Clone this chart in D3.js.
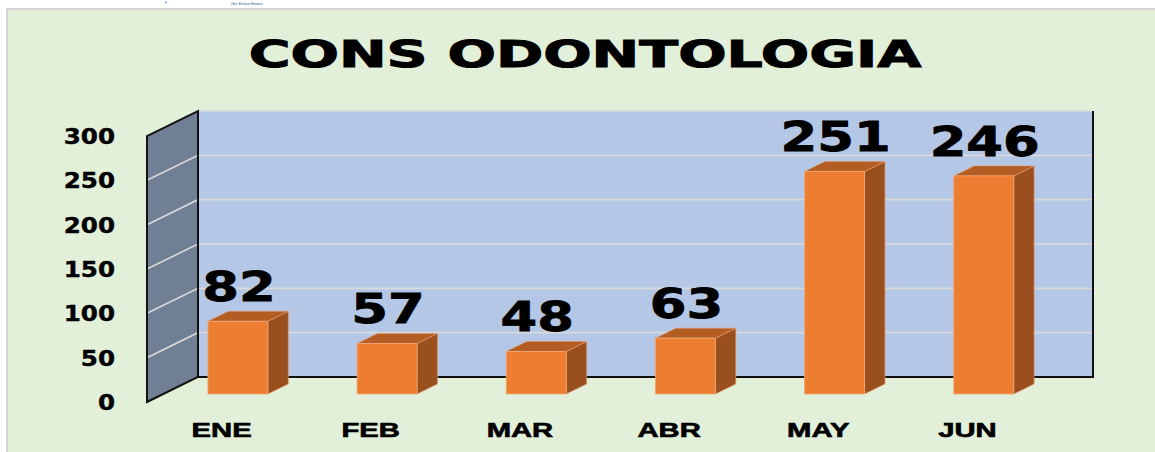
<!DOCTYPE html>
<html>
<head>
<meta charset="utf-8">
<script src="https://cdn.jsdelivr.net/npm/d3@7"></script>
<style>
  html, body { margin: 0; padding: 0; background: #ffffff; }
  svg { display: block; }
</style>
</head>
<body>
<div id="chart"></div>
<script>
// ---- data ----
const title = "CONS ODONTOLOGIA";
const categories = ["ENE", "FEB", "MAR", "ABR", "MAY", "JUN"];
const values = [82, 57, 48, 63, 251, 246];
const yTicks = [0, 50, 100, 150, 200, 250, 300];
const yMax = 300;

// ---- layout ----
const W = 1155, H = 452;
const svg = d3.select("#chart").append("svg").attr("width", W).attr("height", H);

// outer chart area
svg.append("rect").attr("x", 7).attr("y", 9).attr("width", W + 10).attr("height", H + 10)
  .attr("fill", "#e2efd9").attr("stroke", "#d4d4d4").attr("stroke-width", 2);

// tiny header remnants
svg.append("text").attr("x", 231).attr("y", 5).attr("font-size", 4)
  .attr("font-family", "Liberation Sans, sans-serif").attr("fill", "#2f5597").text("Ger Estivo Hnnea");
svg.append("line").attr("x1", 166).attr("y1", 1).attr("x2", 166).attr("y2", 3.5)
  .attr("stroke", "#2f8cf0").attr("stroke-width", 1);

// 3D projection
const depth = { dx: 51, dy: -25 };
const x = d3.scaleBand().domain(categories).range([147, 1042]).padding(0);
const y = d3.scaleLinear().domain([0, yMax]).range([402, 136]);
const xL = x.range()[0], xR = x.range()[1];
const P = (px, py, f) => [px + f * depth.dx, py + f * depth.dy];
const poly = pts => pts.map(p => p.join(",")).join(" ");

// back wall
svg.append("polygon")
  .attr("points", poly([P(xL, y(0), 1), P(xR, y(0), 1), P(xR, y(yMax), 1), P(xL, y(yMax), 1)]))
  .attr("fill", "#b4c7e7");
// side wall
svg.append("polygon")
  .attr("points", poly([P(xL, y(0), 0), P(xL, y(0), 1), P(xL, y(yMax), 1), P(xL, y(yMax), 0)]))
  .attr("fill", "#717f95");

// gridlines
const grid = svg.append("g");
yTicks.filter(t => t > 0).forEach(t => {
  const a = P(xL, y(t), 0), b = P(xL, y(t), 1), c = P(xR, y(t), 1);
  grid.append("polyline").attr("points", poly([a, b, c]))
    .attr("fill", "none").attr("stroke", "#d9d9d9").attr("stroke-width", 1.6);
});

// wall edges
const edges = svg.append("g").attr("stroke", "#111").attr("stroke-width", 2).attr("fill", "none");
edges.append("polygon")
  .attr("points", poly([P(xL, y(0), 0), P(xL, y(0), 1), P(xL, y(yMax), 1), P(xL, y(yMax), 0)]));
edges.append("polyline")
  .attr("points", poly([P(xL, y(0), 1), P(xR, y(0), 1), P(xR, y(yMax), 1)]));

// helper: horizontally stretched text
const stretch = (sel, sx) => sel.attr("transform", function () {
  const tx = +this.getAttribute("data-x"), ty = +this.getAttribute("data-y");
  return `translate(${tx},${ty}) scale(${sx},1)`;
});

// y tick labels
svg.append("g").selectAll("text").data(yTicks).join("text")
  .attr("data-x", 115).attr("data-y", d => y(d) + 8)
  .attr("text-anchor", "end")
  .attr("font-family", "DejaVu Sans, sans-serif").attr("font-weight", "bold")
  .attr("font-size", 20.5).attr("fill", "#000")
  .attr("stroke", "#000").attr("stroke-width", 0.4)
  .text(d => d)
  .call(stretch, 1.2);

// bars
const bw = 60, f0 = 0.32, f1 = 0.72;
const rows = categories.map((c, i) => ({ c, v: values[i] }));
const bars = svg.append("g").selectAll("g").data(rows).join("g");
bars.each(function (d) {
  const g = d3.select(this);
  const left = x(d.c) + (x.bandwidth() - bw) / 2, right = left + bw;
  const fb0 = P(left, y(0), f0), ft0 = P(left, y(d.v), f0);
  const rb0 = P(right, y(0), f0), rt0 = P(right, y(d.v), f0);
  const rb1 = P(right, y(0), f1), rt1 = P(right, y(d.v), f1);
  const lt1 = P(left, y(d.v), f1);
  g.append("polygon").attr("points", poly([rb0, rb1, rt1, rt0]))
    .attr("fill", "#9a4f1e").attr("stroke", "#e8a070").attr("stroke-width", 0.6);
  g.append("polygon").attr("points", poly([ft0, rt0, rt1, lt1]))
    .attr("fill", "#b45d23").attr("stroke", "#e8a070").attr("stroke-width", 0.6);
  g.append("polygon").attr("points", poly([fb0, rb0, rt0, ft0]))
    .attr("fill", "#ed7d31").attr("stroke", "#f3a878").attr("stroke-width", 0.8);
});

// value labels
svg.append("g").selectAll("text").data(rows).join("text")
  .attr("data-x", d => x(d.c) + x.bandwidth() / 2 + f0 * depth.dx + 1)
  .attr("data-y", d => y(d.v) + f0 * depth.dy - 20)
  .attr("text-anchor", "middle")
  .attr("font-family", "DejaVu Sans, sans-serif").attr("font-weight", "bold")
  .attr("font-size", 40).attr("fill", "#000")
  .attr("stroke", "#000").attr("stroke-width", 0.8)
  .text(d => d.v)
  .call(stretch, 1.32);

// category labels
svg.append("g").selectAll("text").data(categories).join("text")
  .attr("data-x", d => x(d) + x.bandwidth() / 2)
  .attr("data-y", 437)
  .attr("text-anchor", "middle")
  .attr("font-family", "Liberation Sans, Arial, sans-serif").attr("font-weight", "bold")
  .attr("font-size", 19.5).attr("fill", "#000")
  .attr("stroke", "#000").attr("stroke-width", 0.6)
  .text(d => d)
  .call(stretch, 1.5);

// title
svg.append("text")
  .attr("data-x", 585).attr("data-y", 67)
  .attr("text-anchor", "middle")
  .attr("font-family", "DejaVu Sans, sans-serif").attr("font-weight", "bold")
  .attr("font-size", 37).attr("fill", "#000")
  .attr("stroke", "#000").attr("stroke-width", 1)
  .text(title)
  .call(stretch, 1.54);
</script>
</body>
</html>
